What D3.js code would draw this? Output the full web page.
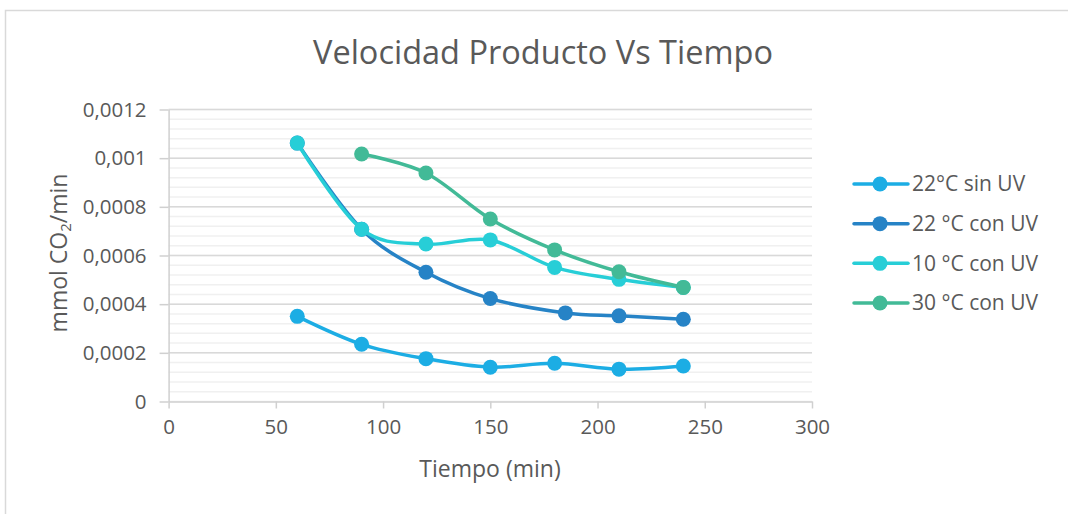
<!DOCTYPE html>
<html>
<head>
<meta charset="utf-8">
<script src="https://cdn.jsdelivr.net/npm/d3@7"></script>
<style>
  html, body { margin: 0; padding: 0; background: #fff; }
  svg { display: block; font-family: "Open Sans", "Noto Sans", sans-serif; }
</style>
</head>
<body>
<svg id="chart" width="1068" height="514"></svg>
<script>
// Velocidad de producción de CO2 frente al tiempo
const titleText = "Velocidad Producto Vs Tiempo";
const xTitle = "Tiempo (min)";

const xTicks = [0, 50, 100, 150, 200, 250, 300];
const yTicks = [0, 0.0002, 0.0004, 0.0006, 0.0008, 0.001, 0.0012];
const yTickLabels = ["0", "0,0002", "0,0004", "0,0006", "0,0008", "0,001", "0,0012"];

const seriesNames = ["22°C sin UV", "22 °C con UV", "10 °C con UV", "30 °C con UV"];
const seriesColors = ["#1CADE4", "#2683C6", "#27CED7", "#42BA97"];

const tSinUV22 = [60, 90, 120, 150, 180, 210, 240];
const vSinUV22 = [0.000350, 0.000235, 0.000176, 0.000141, 0.000157, 0.000133, 0.000146];

const tConUV22 = [60, 90, 120, 150, 185, 210, 240];
const vConUV22 = [0.001062, 0.000708, 0.000531, 0.000423, 0.000364, 0.000352, 0.000338];

const tConUV10 = [60, 90, 120, 150, 180, 210, 240];
const vConUV10 = [0.001062, 0.000708, 0.000647, 0.000664, 0.000551, 0.000502, 0.000469];

const tConUV30 = [90, 120, 150, 180, 210, 240];
const vConUV30 = [0.001017, 0.000939, 0.000750, 0.000623, 0.000533, 0.000469];

const seriesT = [tSinUV22, tConUV22, tConUV10, tConUV30];
const seriesV = [vSinUV22, vConUV22, vConUV10, vConUV30];

const series = seriesNames.map((name, i) => ({
  name,
  color: seriesColors[i],
  points: seriesT[i].map((t, j) => ({ t, v: seriesV[i][j] }))
}));

const svg = d3.select("#chart");
const textColor = "#595959";

// outer chart frame
svg.append("rect")
  .attr("x", 5.5).attr("y", 10.5)
  .attr("width", 1100).attr("height", 600)
  .attr("fill", "none").attr("stroke", "#d9d9d9").attr("stroke-width", 1.5);

const plot = { left: 168.6, right: 812, top: 109.5, bottom: 401.5 };

const x = d3.scaleLinear().domain([0, 300]).range([plot.left, plot.right]);
const y = d3.scaleLinear().domain([0, 0.0012]).range([plot.bottom, plot.top]);

// minor gridlines
const minor = d3.range(0, 0.0012 + 1e-9, 0.00004);
svg.append("g").selectAll("line").data(minor).join("line")
  .attr("x1", plot.left).attr("x2", plot.right)
  .attr("y1", d => y(d)).attr("y2", d => y(d))
  .attr("stroke", "#f0f0f0").attr("stroke-width", 1.5);

// major gridlines
svg.append("g").selectAll("line").data(yTicks.slice(1)).join("line")
  .attr("x1", plot.left).attr("x2", plot.right)
  .attr("y1", d => y(d)).attr("y2", d => y(d))
  .attr("stroke", "#d9d9d9").attr("stroke-width", 1.5);

// axes
const yAxis = d3.axisLeft(y).tickValues(yTicks)
  .tickFormat((d, i) => yTickLabels[i]).tickSizeInner(9).tickSizeOuter(0).tickPadding(13);
const gy = svg.append("g").attr("transform", `translate(${plot.left},0)`).call(yAxis);

const xAxis = d3.axisBottom(x).tickValues(xTicks).tickSizeInner(7).tickSizeOuter(0).tickPadding(11);
const gx = svg.append("g").attr("transform", `translate(0,${plot.bottom})`).call(xAxis);

[gx, gy].forEach(g => {
  g.select(".domain").attr("stroke", "#d0d0d0").attr("stroke-width", 1.5);
  g.selectAll(".tick line").attr("stroke", "#d0d0d0").attr("stroke-width", 1.5);
  g.selectAll(".tick text").attr("fill", textColor)
    .style("font-size", "20.5px").style("font-family", "'Open Sans', sans-serif");
});

// series lines and markers
const line = d3.line()
  .x(d => x(d.t)).y(d => y(d.v))
  .curve(d3.curveCardinal.tension(0));

series.forEach(s => {
  const g = svg.append("g");
  g.append("path").datum(s.points)
    .attr("d", line).attr("fill", "none")
    .attr("stroke", s.color).attr("stroke-width", 3.5)
    .attr("stroke-linejoin", "round").attr("stroke-linecap", "round");
  g.selectAll("circle").data(s.points).join("circle")
    .attr("cx", d => x(d.t)).attr("cy", d => y(d.v)).attr("r", 7.5)
    .attr("fill", s.color);
});

// title
svg.append("text")
  .attr("x", 543).attr("y", 64).attr("text-anchor", "middle")
  .attr("fill", textColor).style("font-size", "32.5px")
  .text(titleText);

// axis titles
svg.append("text")
  .attr("x", 490).attr("y", 477).attr("text-anchor", "middle")
  .attr("fill", textColor).style("font-size", "23px")
  .text(xTitle);

const yt = svg.append("text")
  .attr("transform", "translate(67,253) rotate(-90)")
  .attr("text-anchor", "middle")
  .attr("fill", textColor).style("font-size", "23px");
yt.append("tspan").text("mmol CO");
yt.append("tspan").attr("baseline-shift", "-25%").style("font-size", "15px").text("2");
yt.append("tspan").text("/min");

// legend
const legend = svg.append("g");
const legendY = d3.scalePoint().domain(seriesNames).range([184, 303]);
series.forEach(s => {
  const cy = legendY(s.name);
  legend.append("line")
    .attr("x1", 854).attr("x2", 908).attr("y1", cy).attr("y2", cy)
    .attr("stroke", s.color).attr("stroke-width", 3.5).attr("stroke-linecap", "round");
  legend.append("circle").attr("cx", 880).attr("cy", cy).attr("r", 7.5).attr("fill", s.color);
  legend.append("text")
    .attr("x", 912).attr("y", cy).attr("dy", "0.35em")
    .attr("fill", textColor).style("font-size", "21px")
    .text(s.name);
});
</script>
</body>
</html>
